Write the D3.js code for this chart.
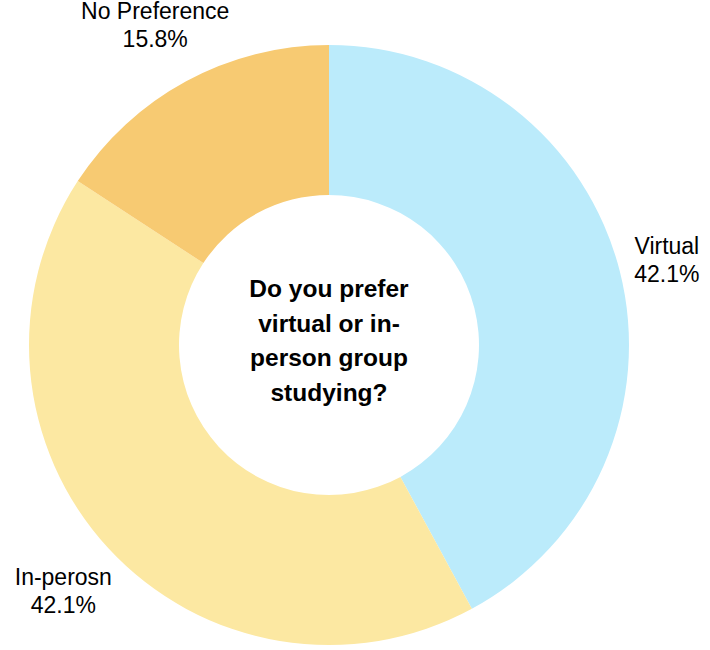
<!DOCTYPE html>
<html>
<head>
<meta charset="utf-8">
<script src="https://cdn.jsdelivr.net/npm/d3@7"></script>
<style>
  body { margin: 0; background: #fff; }
  text { font-family: "Liberation Sans", Arial, sans-serif; fill: #000; }
</style>
</head>
<body>
<div class="chart"></div>
<script>
var categories = ['Virtual', 'In-perosn', 'No Preference'];
var percents = [42.1, 42.1, 15.8];
var colors = ['#bbebfb', '#fce8a2', '#f7ca72'];
var title = ['Do you prefer', 'virtual or in-', 'person group', 'studying?'];

var width = 710;
var height = 650;
var cx = 329, cy = 345;
var outerR = 300, innerR = 150;

var data = categories.map((c, i) => ({ name: c, value: percents[i], color: colors[i] }));

var svg = d3.select('.chart')
    .append('svg')
    .attr('width', width)
    .attr('height', height);

var g = svg.append('g')
    .attr('transform', 'translate(' + cx + ', ' + cy + ')');

var pie = d3.pie()
    .sort(null)
    .value(d => d.value);

var arc = d3.arc()
    .innerRadius(innerR)
    .outerRadius(outerR);

var arcs = pie(data);

g.selectAll('.slice')
    .data(arcs)
    .enter()
    .append('path')
    .attr('class', 'slice')
    .attr('d', arc)
    .attr('fill', d => d.data.color);

// labels outside, pushed out along the mid angle by their own size
var labelH = 40;
var labels = g.selectAll('.label')
    .data(arcs)
    .enter()
    .append('g')
    .attr('class', 'label');

labels.append('text')
    .attr('text-anchor', 'middle')
    .attr('y', -5)
    .style('font-size', '23px')
    .text(d => d.data.name);

labels.append('text')
    .attr('text-anchor', 'middle')
    .attr('y', 23)
    .style('font-size', '23px')
    .text(d => d.data.value.toFixed(1) + '%');

labels.attr('transform', function (d) {
    var box = this.getBBox();
    var a = (d.startAngle + d.endAngle) / 2;
    var s = Math.sin(a), c = Math.cos(a);
    var r = outerR + 12 + Math.abs(s) * box.width / 2 + Math.abs(c) * labelH / 2;
    var mx = box.x + box.width / 2;
    return `translate(${r * s - mx}, ${-r * c})`;
});

// centre question
var center = g.append('text')
    .attr('text-anchor', 'middle')
    .style('font-size', '24.5px')
    .style('font-weight', 'bold');

center.selectAll('tspan')
    .data(title)
    .enter()
    .append('tspan')
    .attr('x', 0)
    .attr('y', (d, i) => -48 + i * 34.5)
    .text(d => d);
</script>
</body>
</html>
